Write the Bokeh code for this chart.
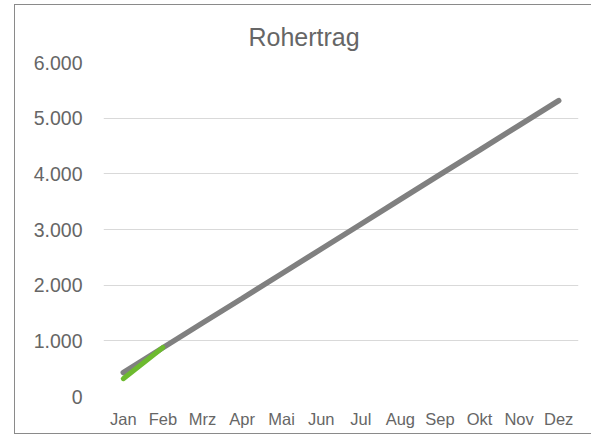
from bokeh.plotting import figure
from bokeh.models import FactorRange, Range1d, FixedTicker, CustomJSTickFormatter
from bokeh.embed import file_html
from bokeh.resources import INLINE

months = ["Jan", "Feb", "Mrz", "Apr", "Mai", "Jun", "Jul", "Aug", "Sep", "Okt", "Nov", "Dez"]
plan = [430, 875, 1320, 1760, 2205, 2650, 3095, 3540, 3985, 4425, 4870, 5315]
ist_months = ["Jan", "Feb"]
ist = [320, 880]
y_ticks = [0, 1000, 2000, 3000, 4000, 5000, 6000]

FONT = "Liberation Sans"
TXT = "#666666"

p = figure(x_range=FactorRange(*months, range_padding=0), y_range=Range1d(0, 6000),
           frame_width=475, frame_height=334,
           min_border_left=88, min_border_right=13, min_border_top=57, min_border_bottom=37,
           output_backend="svg", toolbar_location=None,
           title="Rohertrag")
p.styles = {"position": "relative", "left": "14px", "top": "4px",
            "border-left": "1px solid #8a8a8a", "border-top": "1px solid #8a8a8a",
            "border-bottom": "1px solid #8a8a8a"}

p.title.align = "left"
p.title.text_font = FONT
p.title.text_font_size = "25px"
p.title.text_font_style = "normal"
p.title.text_color = TXT
p.title.offset = 145
p.title.standoff = 24

p.outline_line_color = None
p.xgrid.grid_line_color = None
p.ygrid.grid_line_color = "#d9d9d9"
p.ygrid.grid_line_width = 1

for ax in (p.xaxis, p.yaxis):
    ax.axis_line_color = None
    ax.major_tick_line_color = None
    ax.minor_tick_line_color = None
    ax.major_label_text_font = FONT
    ax.major_label_text_color = TXT

p.yaxis.ticker = FixedTicker(ticks=y_ticks)
p.yaxis.formatter = CustomJSTickFormatter(code='return tick.toFixed(0).replace(/\\B(?=(\\d{3})+(?!\\d))/g, ".");')
p.yaxis.major_label_text_font_size = "19.5px"
p.yaxis.major_label_standoff = 15
p.xaxis.major_label_text_font_size = "16.5px"
p.xaxis.major_label_standoff = 7

p.line(months, plan, line_color="#808080", line_width=5.5, line_cap="round")
p.line(ist_months, ist, line_color="#6dba2f", line_width=5, line_cap="round")

open("out.html", "w").write(file_html(p, INLINE))
